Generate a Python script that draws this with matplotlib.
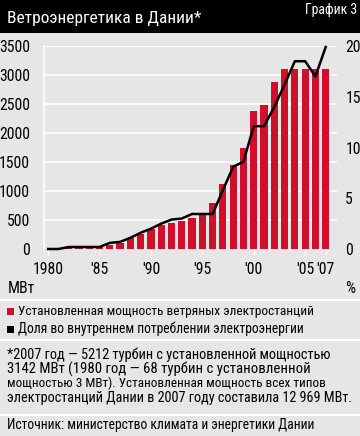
import matplotlib
matplotlib.use("Agg")
import matplotlib.pyplot as plt
from matplotlib.patches import Rectangle
from matplotlib import font_manager
import numpy as np

years = list(range(1980, 2008))
capacity_mw = [3, 7, 12, 20, 27, 50, 70, 100, 190, 260, 340, 410, 450, 487, 526, 583,
               794, 1114, 1440, 1744, 2384, 2475, 2880, 3100, 3100, 3100, 3100, 3100]
share_pct = [0.0, 0.0, 0.2, 0.2, 0.2, 0.2, 0.6, 0.7, 1.1, 1.6, 2.0, 2.5, 2.9, 3.0, 3.45,
             3.45, 3.45, 5.8, 8.1, 8.6, 12.1, 12.1, 14.0, 16.2, 18.5, 18.5, 17.0, 19.9]
left_ticks = [0, 500, 1000, 1500, 2000, 2500, 3000, 3500]
right_ticks = [0, 5, 10, 15, 20]
x_tick_pos = [1980, 1985, 1990, 1995, 2000, 2005, 2007]
x_tick_labels = ["1980", "'85", "'90", "'95", "'00", "'05", "'07"]

title = "Ветроэнергетика в Дании*"
chart_no = "График 3"
legend_items = ["Установленная мощность ветряных электростанций",
                "Доля во внутреннем потреблении электроэнергии"]
footnote = ["*2007 год — 5212 турбин с установленной мощностью",
            "3142 МВт (1980 год — 68 турбин с установленной",
            "мощностью 3 МВт). Установленная мощность всех типов",
            "электростанций Дании в 2007 году составила 12 969 МВт."]
source = "Источник: министерство климата и энергетики Дании"

def pick_font():
    for name in ["Roboto Condensed", "Liberation Sans Narrow", "Roboto"]:
        try:
            font_manager.findfont(font_manager.FontProperties(family=name),
                                  fallback_to_default=False)
            return name
        except Exception:
            continue
    return "DejaVu Sans"

FONT = [pick_font(), "DejaVu Sans"]
plt.rcParams['font.family'] = FONT

W, H = 360, 436
fig = plt.figure(figsize=(W / 100, H / 100), dpi=100)
renderer = fig.canvas.get_renderer()
BG = "#e6e6e6"
RED = "#d0102a"
fig.patch.set_facecolor(BG)

def fy(px):
    return 1 - px / H

def fx(px):
    return px / W

def fit(t, target_px):
    bb = t.get_window_extent(renderer=renderer)
    t.set_fontsize(t.get_fontsize() * target_px / bb.width)
    return t

def size_for(s, target_px, base=10):
    t = fig.text(0, 0, s, fontsize=base)
    bb = t.get_window_extent(renderer=renderer)
    t.remove()
    return base * target_px / bb.width

# title bar
fig.patches.append(Rectangle((0, fy(33)), 1, 33 / H, transform=fig.transFigure,
                             facecolor="black", edgecolor="none", zorder=0))
fit(fig.text(fx(7), fy(18), title, color="white", fontsize=14, va="center", ha="left"), 195)
fit(fig.text(fx(357), fy(10), chart_no, color="white", fontsize=10, va="center", ha="right"), 52)

# separators
for ypx in [300, 340, 415]:
    fig.patches.append(Rectangle((0, fy(ypx + 1)), 1, 2 / H, transform=fig.transFigure,
                                 facecolor="white", edgecolor="none", zorder=1))

tick_size = size_for("3500", 31)

# axes
x0, x1 = 44, 337
ytop, ybot = 46, 249
ax = fig.add_axes([fx(x0), fy(ybot), (x1 - x0) / W, (ybot - ytop) / H])
ax.set_facecolor("none")
ax.set_xlim(1979.6, 2008.1)
ax.set_ylim(0, 3500)
ax.bar(years, capacity_mw, width=0.7, color=RED, zorder=2)
for v in left_ticks[1:]:
    ax.axhline(v, color="white", lw=1.2, zorder=1)
for s in ["top", "right", "bottom"]:
    ax.spines[s].set_visible(False)
ax.spines["left"].set_color("white")
ax.spines["left"].set_linewidth(1.2)
ax.set_yticks(left_ticks)
ax.set_yticklabels([str(v) for v in left_ticks])
ax.tick_params(axis="y", length=0, pad=10, labelsize=tick_size, colors="black")
ax.set_xticks(x_tick_pos)
ax.set_xticklabels(x_tick_labels)
ax.tick_params(axis="x", length=4, width=1, color="white", pad=5, labelsize=tick_size)

ax2 = ax.twinx()
ax2.set_ylim(0, 20)
ax2.plot(years, share_pct, color="black", lw=1.8, zorder=3, clip_on=False)
for s in ["top", "right", "bottom", "left"]:
    ax2.spines[s].set_visible(False)
ax2.set_yticks(right_ticks)
ax2.set_yticklabels([str(v) for v in right_ticks])
ax2.tick_params(axis="y", length=0, pad=6, labelsize=tick_size)

fig.text(fx(8), fy(288), "МВт", fontsize=tick_size, va="center", ha="left")
fig.text(fx(355), fy(288), "%", fontsize=tick_size, va="center", ha="right")

# legend
leg_widths = [297, 287]
for i, (lab, col) in enumerate(zip(legend_items, [RED, "black"])):
    ypx = 311 + i * 18
    fig.patches.append(Rectangle((fx(7), fy(ypx + 3.5)), 7 / W, 7 / H,
                                 transform=fig.transFigure, facecolor=col,
                                 edgecolor="none"))
    fit(fig.text(fx(18), fy(ypx), lab, fontsize=10, va="center", ha="left"), leg_widths[i])

foot_widths = [325, 301, 319, 346]
for i, line in enumerate(footnote):
    fit(fig.text(fx(7), fy(355 + i * 14.2), line, fontsize=10, va="center", ha="left"),
        foot_widths[i])

fit(fig.text(fx(7), fy(425), source, fontsize=10, va="center", ha="left"), 311)

fig.savefig("out.png", dpi=100, facecolor=fig.get_facecolor())
